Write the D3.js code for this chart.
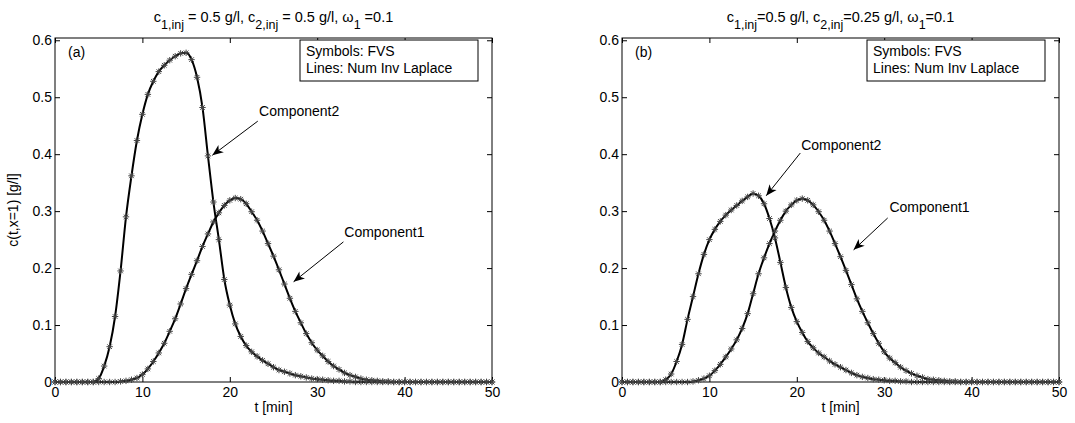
<!DOCTYPE html>
<html>
<head>
<meta charset="utf-8">
<script src="https://cdn.jsdelivr.net/npm/d3@7"></script>
<style>
body{margin:0;background:#fff;}
svg{display:block;font-family:"Liberation Sans",Arial,sans-serif;}
</style>
</head>
<body>
<svg id="chart" width="1075" height="423"></svg>
<script>
// sampling times of the FVS output [min]
var tSample = d3.range(0, 50.0001, 0.625);

// panel (a): c1,inj = 0.5 g/l, c2,inj = 0.5 g/l
var a_comp1 = [0,0,0,0,0,0,0,0,
  0,0,0,0,0.001,0.002,0.004,0.007,
  0.013,0.023,0.036,0.051,0.068,0.089,0.111,0.137,
  0.164,0.189,0.213,0.238,0.26,0.281,0.297,0.31,
  0.319,0.323,0.321,0.313,0.299,0.284,0.265,0.243,
  0.221,0.197,0.172,0.147,0.124,0.104,0.085,0.069,
  0.056,0.046,0.036,0.028,0.022,0.016,0.012,0.009,
  0.006,0.004,0.003,0.002,0.001,0.001,0,0,
  0,0,0,0,0,0,0,0,
  0,0,0,0,0,0,0,0,
  0];
var a_comp2 = [0,0,0,0,0,0,0,0,
  0.006,0.028,0.062,0.115,0.195,0.29,0.362,0.424,
  0.47,0.505,0.528,0.545,0.556,0.565,0.572,0.577,
  0.578,0.566,0.535,0.482,0.397,0.316,0.25,0.18,
  0.135,0.102,0.08,0.064,0.053,0.045,0.038,0.032,
  0.026,0.021,0.018,0.015,0.012,0.010,0.008,0.006,
  0.005,0.004,0.003,0.002,0.002,0.001,0.001,0,
  0,0,0,0,0,0,0,0,
  0,0,0,0,0,0,0,0,
  0,0,0,0,0,0,0,0,
  0];

// panel (b): c1,inj = 0.5 g/l, c2,inj = 0.25 g/l
var b_comp1 = [0,0,0,0,0,0,0,0,
  0,0,0,0,0,0.001,0.003,0.006,
  0.011,0.02,0.031,0.044,0.058,0.074,0.094,0.12,
  0.155,0.19,0.218,0.243,0.265,0.284,0.3,0.311,
  0.319,0.322,0.319,0.311,0.299,0.284,0.265,0.243,
  0.22,0.196,0.171,0.146,0.124,0.104,0.085,0.068,
  0.053,0.042,0.034,0.026,0.02,0.015,0.011,0.008,
  0.005,0.004,0.003,0.002,0.001,0.001,0,0,
  0,0,0,0,0,0,0,0,
  0,0,0,0,0,0,0,0,
  0];
var b_comp2 = [0,0,0,0,0,0,0,0,
  0.004,0.014,0.036,0.066,0.11,0.15,0.19,0.224,
  0.25,0.268,0.282,0.293,0.302,0.31,0.318,0.325,
  0.331,0.327,0.313,0.287,0.253,0.21,0.166,0.131,
  0.106,0.087,0.071,0.06,0.051,0.044,0.037,0.031,
  0.026,0.021,0.016,0.012,0.009,0.007,0.005,0.004,
  0.003,0.002,0.002,0.001,0.001,0,0,0,
  0,0,0,0,0,0,0,0,
  0,0,0,0,0,0,0,0,
  0,0,0,0,0,0,0,0,
  0];

var xTicks = [0, 10, 20, 30, 40, 50];
var yTicks = [0, 0.1, 0.2, 0.3, 0.4, 0.5, 0.6];
var yTickLabels = ['0', '0.1', '0.2', '0.3', '0.4', '0.5', '0.6'];

// title pieces: [text, isSubscript]
var titleA = [['c',0],['1,inj',1],[' = 0.5 g/l, c',0],['2,inj',1],[' = 0.5 g/l, \u03c9',0],['1',1],[' =0.1',0]];
var titleB = [['c',0],['1,inj',1],['=0.5 g/l, c',0],['2,inj',1],['=0.25 g/l, \u03c9',0],['1',1],['=0.1',0]];
var legendLines = ['Symbols: FVS', 'Lines: Num Inv Laplace'];

// annotations in data units: text position, arrow start, arrow tip
var annotA = [
  {label:'Component2', tx:23.35, ty:0.467, x0:23.2, y0:0.458, x1:18.0, y1:0.398},
  {label:'Component1', tx:33.1, ty:0.255, x0:33.0, y0:0.246, x1:27.3, y1:0.176}
];
var annotB = [
  {label:'Component2', tx:20.5, ty:0.408, x0:20.4, y0:0.402, x1:16.5, y1:0.327},
  {label:'Component1', tx:30.6, ty:0.298, x0:30.4, y0:0.288, x1:26.5, y1:0.232}
];

var svg = d3.select('#chart');
var defs = svg.append('defs');
defs.append('marker')
  .attr('id', 'arrowhead')
  .attr('viewBox', '-12 -6 14 12')
  .attr('refX', 0).attr('refY', 0)
  .attr('markerWidth', 14).attr('markerHeight', 12)
  .attr('markerUnits', 'userSpaceOnUse')
  .attr('orient', 'auto')
  .append('path')
  .attr('d', 'M0,0L-11,-4.5L-8,0L-11,4.5Z')
  .attr('fill', '#000');

var W = 437, H = 344, TOP = 38;
var FS = 14;
var STAR = 'M-3.2,0H3.2M0,-3.2V3.2M-2.3,-2.3L2.3,2.3M-2.3,2.3L2.3,-2.3';

function drawPanel(left, tag, title, series, annots, yLabel)
{
  var g = svg.append('g').attr('transform', 'translate(' + left + ',' + TOP + ')');
  var x = d3.scaleLinear().domain([0, 50]).range([0, W]);
  var y = d3.scaleLinear().domain([0, 0.604]).range([H, 0]);

  // axes with inward ticks, matlab style
  g.append('g').attr('transform', 'translate(0,' + H + ')')
    .call(d3.axisBottom(x).tickValues(xTicks).tickSizeInner(-5).tickSizeOuter(0).tickPadding(5));
  g.append('g')
    .call(d3.axisTop(x).tickValues(xTicks).tickSizeInner(-5).tickSizeOuter(0).tickFormat(''));
  g.append('g')
    .call(d3.axisLeft(y).tickValues(yTicks).tickSizeInner(-5).tickSizeOuter(0).tickPadding(3)
      .tickFormat(function(d, i){ return yTickLabels[i]; }));
  g.append('g').attr('transform', 'translate(' + W + ',0)')
    .call(d3.axisRight(y).tickValues(yTicks).tickSizeInner(-5).tickSizeOuter(0).tickFormat(''));
  g.selectAll('.domain').remove();
  g.selectAll('.tick line').attr('stroke', '#000');
  g.selectAll('.tick text').attr('font-size', FS).attr('fill', '#000');
  g.selectAll('g').attr('font-family', null).attr('font-size', null);

  g.append('rect').attr('width', W).attr('height', H)
    .attr('fill', 'none').attr('stroke', '#000').attr('stroke-width', 1);

  // curves (numerical inverse Laplace) and symbols (FVS)
  var line = d3.line()
    .x(function(d, i){ return x(tSample[i]); })
    .y(function(d){ return y(d); })
    .curve(d3.curveMonotoneX);
  series.forEach(function(s){
    g.append('path').datum(s).attr('d', line)
      .attr('fill', 'none').attr('stroke', '#000').attr('stroke-width', 2);
  });
  series.forEach(function(s){
    g.append('g').selectAll('path').data(s).enter().append('path')
      .attr('transform', function(d, i){ return 'translate(' + x(tSample[i]) + ',' + y(d) + ')'; })
      .attr('d', STAR)
      .attr('fill', 'none').attr('stroke', '#444').attr('stroke-width', 1);
  });

  // legend box
  var lg = g.append('g').attr('transform', 'translate(' + (W - 192) + ',2)');
  lg.append('rect').attr('width', 178).attr('height', 41)
    .attr('fill', '#fff').attr('stroke', '#000').attr('stroke-width', 1);
  lg.selectAll('text').data(legendLines).enter().append('text')
    .attr('x', 6).attr('y', function(d, i){ return 16 + i * 17; })
    .attr('font-size', FS).text(function(d){ return d; });

  // panel tag
  g.append('text').attr('x', 13).attr('y', 19).attr('font-size', FS).text(tag);

  // annotations
  annots.forEach(function(a){
    g.append('line')
      .attr('x1', x(a.x0)).attr('y1', y(a.y0))
      .attr('x2', x(a.x1)).attr('y2', y(a.y1))
      .attr('stroke', '#000').attr('stroke-width', 1)
      .attr('marker-end', 'url(#arrowhead)');
    g.append('text').attr('x', x(a.tx)).attr('y', y(a.ty))
      .attr('font-size', FS).text(a.label);
  });

  // title with subscripts
  var tt = g.append('text').attr('x', W / 2).attr('y', -16)
    .attr('text-anchor', 'middle').attr('font-size', 14.5);
  var low = false;
  title.forEach(function(p){
    var sp = tt.append('tspan').text(p[0]);
    if(p[1]){
      sp.attr('font-size', 12.5).attr('dy', low ? 0 : 7);
      low = true;
    }else{
      if(low) sp.attr('dy', -7);
      low = false;
    }
  });

  g.append('text').attr('x', W / 2).attr('y', H + 30)
    .attr('text-anchor', 'middle').attr('font-size', FS).text('t [min]');

  if(yLabel){
    g.append('text').attr('transform', 'translate(-37,' + (H / 2) + ') rotate(-90)')
      .attr('text-anchor', 'middle').attr('font-size', FS).text(yLabel);
  }
}

drawPanel(55, '(a)', titleA, [a_comp1, a_comp2], annotA, 'c(t,x=1) [g/l]');
drawPanel(622, '(b)', titleB, [b_comp1, b_comp2], annotB, null);
</script>
</body>
</html>
